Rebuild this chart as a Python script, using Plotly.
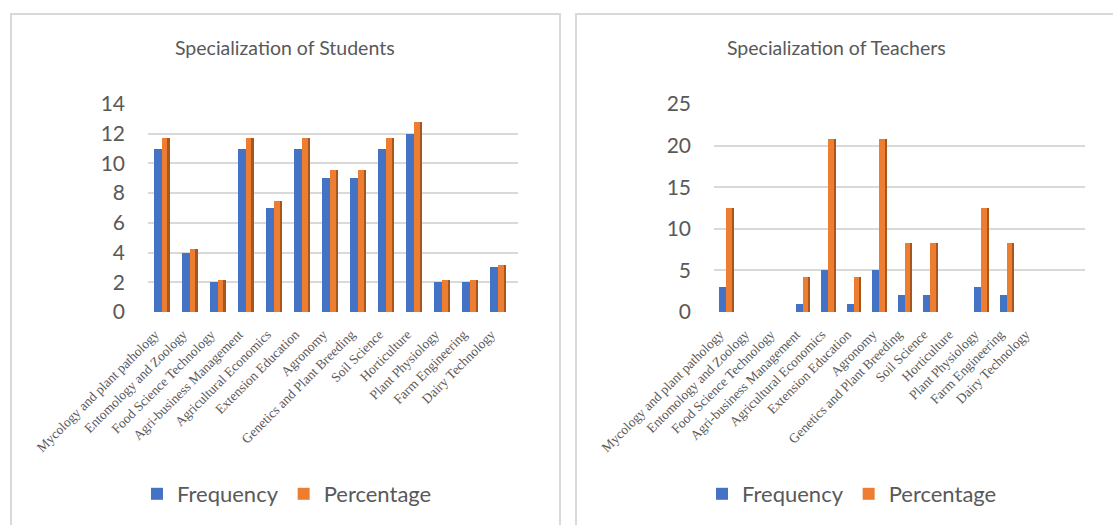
import plotly.graph_objects as go

# --- data -------------------------------------------------------------
categories = [
    "Mycology and plant pathology", "Entomology and Zoology",
    "Food Science Technology", "Agri-business Management",
    "Agricultural Economics", "Extension Education", "Agronomy",
    "Genetics and Plant Breeding", "Soil Science", "Horticulture",
    "Plant Physiology", "Farm Engineering", "Dairy Technology",
]
student_freq = [11, 4, 2, 11, 7, 11, 9, 9, 11, 12, 2, 2, 3]
student_pct = [11.70, 4.26, 2.13, 11.70, 7.45, 11.70, 9.57, 9.57, 11.70, 12.77, 2.13, 2.13, 3.19]
teacher_freq = [3, 0, 0, 1, 5, 1, 5, 2, 2, 0, 3, 2, 0]
teacher_pct = [12.50, 0, 0, 4.17, 20.83, 4.17, 20.83, 8.33, 8.33, 0, 12.50, 8.33, 0]
student_ticks = [0, 2, 4, 6, 8, 10, 12, 14]
teacher_ticks = [0, 5, 10, 15, 20, 25]

# --- styling ----------------------------------------------------------
W, H = 1113, 525
BLUE, BLUE_DARK = "#4472C4", "#2F528F"
ORANGE, ORANGE_DARK = "#ED7D31", "#A9561E"
GREY_TXT = "#595959"
GRID = "#D9D9D9"
SANS = "Lato, 'Open Sans', sans-serif"
SERIF = "'Liberation Serif', 'DejaVu Serif', serif"


def px(x):
    return x / W


def py(y):
    return 1 - y / H


fig = go.Figure()


def add_panel(freq, pct, xa, ya, legend):
    # front faces
    fig.add_trace(go.Bar(x=categories, y=freq, name="Frequency", marker_color=BLUE,
                         offset=-0.29, width=0.28, xaxis=xa, yaxis=ya, legend=legend))
    fig.add_trace(go.Bar(x=categories, y=pct, name="Percentage", marker_color=ORANGE,
                         offset=-0.01, width=0.22, xaxis=xa, yaxis=ya, legend=legend))
    # shaded side face of the percentage bars
    fig.add_trace(go.Bar(x=categories, y=pct, marker_color=ORANGE_DARK, showlegend=False,
                         offset=0.21, width=0.065, xaxis=xa, yaxis=ya, hoverinfo="skip"))


add_panel(student_freq, student_pct, "x", "y", "legend")
add_panel(teacher_freq, teacher_pct, "x2", "y2", "legend2")

for tr in fig.data:
    tr.marker.line.width = 0

y_dom = [py(312), py(104)]
xaxis_common = dict(
    type="category", showgrid=False, showline=False, zeroline=False, ticks="",
    tickangle=-45, tickfont=dict(family=SERIF, size=13.5, color=GREY_TXT),
    automargin=False, ticklabelstandoff=11, ticklabelshift=-7,
)
yaxis_common = dict(
    showgrid=True, gridcolor=GRID, gridwidth=2, zeroline=False, showline=False,
    ticks="", tickfont=dict(family=SANS, size=21, color=GREY_TXT),
    domain=y_dom, ticklabelstandoff=22, automargin=False,
)
legend_common = dict(orientation="h", xanchor="center", yanchor="middle",
                     font=dict(family=SANS, size=22, color=GREY_TXT),
                     bgcolor="rgba(0,0,0,0)", xref="paper", yref="paper")

fig.update_layout(
    width=W, height=H, autosize=False,
    margin=dict(l=0, r=0, t=0, b=0, pad=0),
    paper_bgcolor="white", plot_bgcolor="white",
    barmode="overlay", bargap=0,
    showlegend=True,
    xaxis=dict(xaxis_common, domain=[px(148), px(518)], anchor="y",
               range=[-0.5, 12.7], categoryarray=categories),
    yaxis=dict(yaxis_common, range=[0, 14], tickvals=student_ticks, anchor="x"),
    xaxis2=dict(xaxis_common, domain=[px(714), px(1085)], anchor="y2",
                range=[-0.5, 14.05], categoryarray=categories),
    yaxis2=dict(yaxis_common, range=[0, 25], tickvals=teacher_ticks, anchor="x2"),
    legend=dict(legend_common, x=px(287), y=py(494)),
    legend2=dict(legend_common, x=px(852), y=py(494)),
    annotations=[
        dict(text="Specialization of Students", x=px(285), y=py(48), xref="paper",
             yref="paper", showarrow=False, xanchor="center", yanchor="middle",
             font=dict(family=SANS, size=19.5, color=GREY_TXT)),
        dict(text="Specialization of Teachers", x=px(836), y=py(48), xref="paper",
             yref="paper", showarrow=False, xanchor="center", yanchor="middle",
             font=dict(family=SANS, size=19.5, color=GREY_TXT)),
    ],
    shapes=[
        # chart area frames
        dict(type="rect", xref="paper", yref="paper", x0=px(11), x1=px(560),
             y0=py(535), y1=py(14), line=dict(color=GRID, width=2), layer="below"),
        dict(type="rect", xref="paper", yref="paper", x0=px(576), x1=px(1125),
             y0=py(535), y1=py(14), line=dict(color=GRID, width=2), layer="below"),
    ],
)

fig.write_html("out.html")
